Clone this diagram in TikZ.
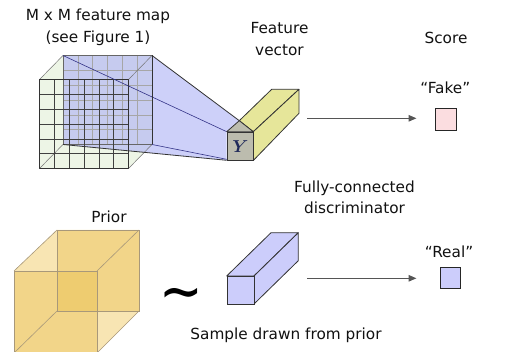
\documentclass[tikz,border=0pt]{standalone}
\usepackage{fontspec}
\usepackage{bm}
\newfontfamily\labfont{DejaVu Sans}
\newfontfamily\tildefont{DejaVu Serif}
\usetikzlibrary{arrows.meta}
\definecolor{txt}{HTML}{111111}
\definecolor{cubegreen}{HTML}{EDF5E6}
\definecolor{frblue}{HTML}{ACB0F5}
\definecolor{ygray}{HTML}{BCBCAE}
\definecolor{yyellow}{HTML}{E6E69A}
\definecolor{pblue}{HTML}{CCCDFB}
\definecolor{fpink}{HTML}{FBDDE0}
\definecolor{priorlight}{HTML}{F8E5B3}
\definecolor{priorfill}{HTML}{E9BF4C}
\definecolor{prioredge}{HTML}{A8987A}
\definecolor{arrowgray}{HTML}{555555}
\definecolor{ynavy}{HTML}{202A5A}
\tikzset{
  lab/.style={font=\labfont\fontsize{15.3}{21.5}\selectfont, text=txt, align=center, inner sep=0pt},
  flow/.style={draw=arrowgray, line width=1.2pt, -{Triangle[length=8pt,width=6.5pt]}},
  scorebox/.style={draw=black!85, line width=0.9pt, minimum width=21pt, minimum height=21pt, inner sep=0pt},
  edge/.style={draw=black!80, line width=0.8pt, line join=round},
  thinedge/.style={draw=black!55, line width=0.5pt},
}
\begin{document}
\begin{tikzpicture}[x=1pt,y=-1pt]
\useasboundingbox (0,0) rectangle (511,352);
\clip (0,0) rectangle (511,352);

% ---------- green feature-map cube ----------
\fill[cubegreen] (39.5,79.5) -- (63,55.5) -- (152,55.5) -- (152,144.5) -- (128.5,168.5) -- (39.5,168.5) -- cycle;
% blue back face + frustum
\fill[frblue, opacity=0.6] (63,55.5) -- (152,55.5) -- (239.3,120.7) -- (226.7,131.7) -- (226.7,160.3) -- (63,144.5) -- cycle;
% back grid
\foreach \k in {0,...,6}{
  \draw[draw=black!35, line width=0.5pt] ({63+\k*89/6},55.5) -- ({63+\k*89/6},144.5);
  \draw[draw=black!35, line width=0.5pt] (63,{55.5+\k*89/6}) -- (152,{55.5+\k*89/6});
}
% depth edges
\draw[thinedge] (39.5,79.5) -- (63,55.5);
\draw[thinedge] (128.5,79.5) -- (152,55.5);
\draw[thinedge] (128.5,168.5) -- (152,144.5);
\draw[thinedge] (39.5,168.5) -- (63,144.5);
\draw[draw=black!60, line width=0.7pt] (63,55.5) rectangle (152,144.5);
% front grid
\foreach \k in {1,...,5}{
  \draw[draw=black!75, line width=0.6pt] ({39.5+\k*89/6},79.5) -- ({39.5+\k*89/6},168.5);
  \draw[draw=black!75, line width=0.6pt] (39.5,{79.5+\k*89/6}) -- (128.5,{79.5+\k*89/6});
}
\draw[edge] (39.5,79.5) rectangle (128.5,168.5);
% frustum lines
\draw[draw=black!45!blue!60!gray, line width=0.6pt] (63,55.5) -- (226.7,131.7);
\draw[draw=black!45!blue!60!gray, line width=0.6pt] (152,144.5) -- (226.7,159.3);
\draw[edge] (152,55.5) -- (239.3,120.7);
\draw[edge] (63,144.5) -- (226.7,160.3);
\draw[edge] (152,55.5) -- (152,144.5);

% ---------- yellow feature vector prism ----------
\filldraw[fill=yyellow, edge] (239.3,120.7) -- (271.7,89.3) -- (299,89.3) -- (253.3,131.7) -- cycle;
\filldraw[fill=yyellow, edge] (253.3,131.7) -- (299,89.3) -- (299,113.3) -- (253.3,160.5) -- cycle;
\filldraw[fill=ygray, edge] (226.7,131.7) -- (239.3,120.7) -- (253.3,131.7) -- cycle;
\node[draw=black!80, line width=0.8pt, fill=ygray, minimum width=26.6pt, minimum height=28.8pt, inner sep=0pt,
      anchor=north west, text=ynavy, font=\fontsize{17}{17}\selectfont] (yface) at (226.7,131.7) {$\bm{Y}$};

% ---------- score boxes and arrows ----------
\node[scorebox, fill=fpink, minimum width=21.5pt, minimum height=22.5pt] (fake) at (445.7,119.3) {};
\node[scorebox, fill=pblue, minimum width=20pt, minimum height=21pt] (real) at (450,278.3) {};
\coordinate (a1s) at (307.3,118.3);
\coordinate (a1e) at (416.5,118.3);
\coordinate (a2s) at (307.3,278.3);
\coordinate (a2e) at (416.5,278.3);
\draw[flow] (a1s) -- (a1e);
\draw[flow] (a2s) -- (a2e);

% ---------- sample prism ----------
\filldraw[fill=pblue, edge] (226.7,276) -- (271,232.7) -- (298.3,232.7) -- (254,276) -- cycle;
\filldraw[fill=pblue, edge] (254,276) -- (298.3,232.7) -- (298.3,260.7) -- (254,304) -- cycle;
\node[draw=black!80, line width=0.8pt, fill=pblue, minimum width=27.3pt, minimum height=28pt, inner sep=0pt,
      anchor=north west] (sface) at (226.7,276) {};

% ---------- prior cube ----------
\fill[priorlight] (14,271) -- (57,230) -- (139,230) -- (139,311) -- (97,353) -- (14,353) -- cycle;
\fill[priorfill, opacity=0.4] (14,271) rectangle (97,353);
\fill[priorfill, opacity=0.4] (57,230) rectangle (139,311);
\draw[draw=prioredge, line width=0.6pt] (14,271) rectangle (97,353);
\draw[draw=prioredge, line width=0.6pt] (57,230) rectangle (139,311);
\draw[draw=prioredge, line width=0.6pt] (14,271) -- (57,230);
\draw[draw=prioredge, line width=0.6pt] (97,271) -- (139,230);
\draw[draw=prioredge, line width=0.6pt] (97,353) -- (139,311);
\draw[draw=prioredge, line width=0.6pt] (14,353) -- (57,311);

% tilde
\node[inner sep=0pt, text=black, font=\tildefont\bfseries\fontsize{52}{52}\selectfont] (tilde) at (181,299) {∼};

% ---------- labels ----------
\node[lab] (lmap) at (98,27.5) {M x M feature map\\(see Figure 1)};
\node[lab] (lfeat) at (279.5,38.8) {Feature\\vector};
\node[lab] (lscore) at (446,38.3) {Score};
\node[lab] (lfake) at (445.3,87.7) {“Fake”};
\node[lab] (lfc) at (354.5,197.2) {Fully-connected\\discriminator};
\node[lab] (lprior) at (109,216.7) {Prior};
\node[lab] (lreal) at (449,251.7) {“Real”};
\node[lab] (lsample) at (286,335) {Sample drawn from prior};
\end{tikzpicture}
\end{document}
